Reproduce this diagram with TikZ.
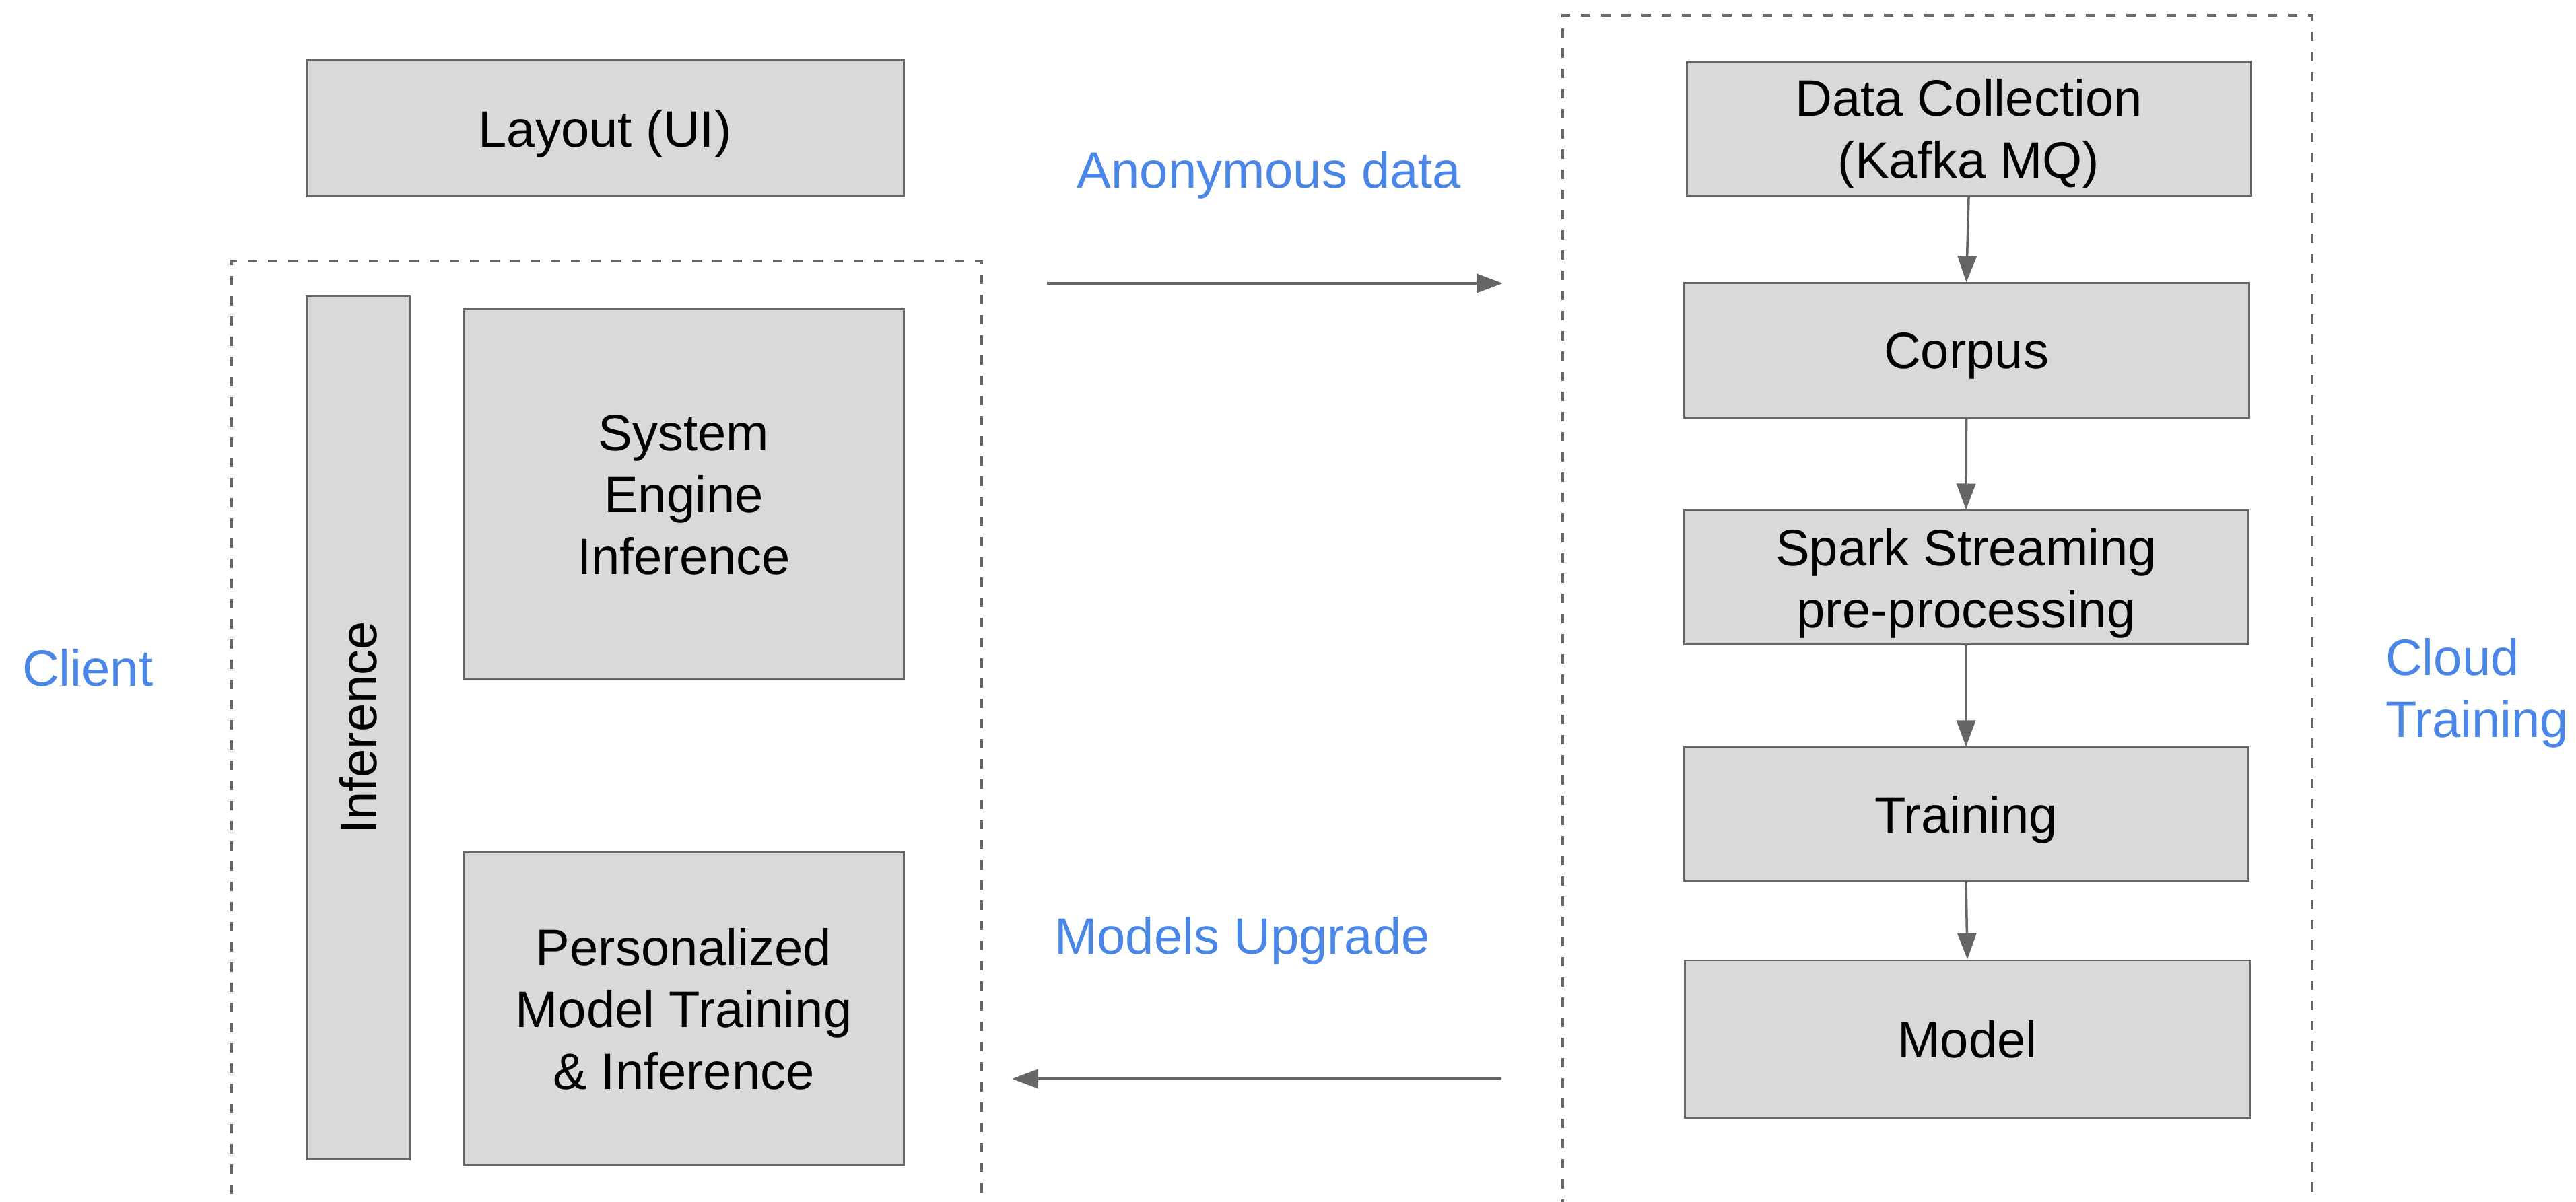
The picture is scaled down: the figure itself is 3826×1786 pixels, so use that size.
\documentclass[tikz,border=0pt]{standalone}
\usepackage{fontspec}
\setmainfont{Liberation Sans}
\usetikzlibrary{arrows.meta}
\definecolor{boxfill}{HTML}{D9D9D9}
\definecolor{boxline}{HTML}{666666}
\definecolor{gblue}{HTML}{4A86E8}
\begin{document}
\begin{tikzpicture}[x=0.1pt,y=-0.1pt,
  box/.style={draw=boxline, fill=boxfill, line width=0.3pt, inner sep=0pt, align=center, text depth=0pt, font=\fontsize{7.6}{9.2}\selectfont},
  group/.style={draw=boxline, line width=0.4pt, dash pattern=on 1.4pt off 1.6pt, inner sep=0pt},
  lbl/.style={text=gblue, inner sep=0pt, font=\fontsize{7.6}{9.2}\selectfont},
  flow/.style={draw=boxline, line width=0.35pt, -{Triangle[length=3.9pt,width=2.8pt]}}]
\useasboundingbox (0,0) rectangle (3826,1786);
% dashed groups (bottom edges run off the page, as in the reference)
\node[group, minimum width=111.4pt, minimum height=141pt] (client) at (901,1093) {};
\node[group, minimum width=111.3pt, minimum height=177.5pt] (cloud) at (2877.5,910.5) {};
% client side
\node[box, minimum width=88.7pt, minimum height=20.2pt] (layout) at (898.5,191) {Layout (UI)};
\node[box, rotate=90, minimum width=128.3pt, minimum height=15.3pt] (inf) at (531.5,1081.5) {Inference};
\node[box, minimum width=65.3pt, minimum height=55pt] (sys) at (1015.5,735) {System\\Engine\\Inference};
\node[box, minimum width=65.3pt, minimum height=46.6pt] (pers) at (1015.5,1499) {Personalized\\Model Training\\\& Inference};
% cloud side
\node[box, minimum width=83.8pt, minimum height=19.9pt] (dc) at (2924,191.5) {Data Collection\\(Kafka MQ)};
\node[box, minimum width=83.9pt, minimum height=20pt] (corpus) at (2920.5,521) {Corpus};
\node[box, minimum width=83.8pt, minimum height=19.9pt] (spark) at (2920,858.5) {Spark Streaming\\pre-processing};
\node[box, minimum width=83.8pt, minimum height=19.8pt] (train) at (2920,1210) {Training};
\node[box, minimum width=84pt, minimum height=23.4pt] (model) at (2922,1544) {Model};
% labels
\node[lbl, anchor=west] (clientlbl) at (31,992) {Client};
\node[lbl, anchor=north west, align=left] (cloudlbl) at (3541,946) {Cloud\\Training};
\node[lbl, anchor=base] (anon) at (1885,280) {Anonymous data};
\node[lbl, anchor=base] (upg) at (1845,1418) {Models Upgrade};
% connectors
\coordinate (a1) at (1555,421);
\coordinate (a2) at (2232,421);
\coordinate (b1) at (2230,1603);
\coordinate (b2) at (1503,1603);
\draw[flow, line width=0.4pt] (a1) -- (a2);
\draw[flow, line width=0.4pt] (b1) -- (b2);
\draw[flow] (dc.south) -- (corpus.north);
\draw[flow] (corpus.south) -- (spark.north);
\draw[flow] (spark.south) -- (train.north);
\draw[flow] (train.south) -- (model.north);
\end{tikzpicture}
\end{document}
